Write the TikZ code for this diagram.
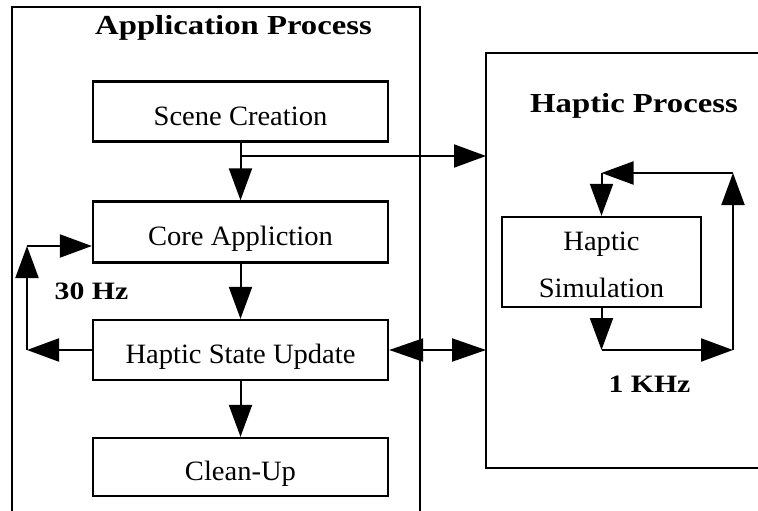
\documentclass[tikz,border=0pt]{standalone}
\usepackage{fontspec}
\setmainfont{Liberation Serif}
\usetikzlibrary{arrows.meta,calc}
\newcommand\bodytxt[1]{\scalebox{1.02}[1]{#1}}
\newcommand\boldtxt[1]{\scalebox{1.19}[1]{#1}}
\tikzset{
  box/.style={draw, line width=2.3pt, minimum width=295pt, minimum height=60pt, inner sep=0pt,
    text height=27pt, text depth=0pt, font=\fontsize{28pt}{33pt}\selectfont},
  frame/.style={draw, line width=2.2pt},
  conn/.style={line width=2pt, -{Triangle[length=32pt,width=23pt]}},
  dconn/.style={line width=2pt, {Triangle[length=34pt,width=23pt]}-{Triangle[length=34pt,width=23pt]}},
  title/.style={anchor=base, inner sep=0pt, font=\fontsize{27.5pt}{32pt}\selectfont\bfseries},
  rate/.style={anchor=base, inner sep=0pt, font=\fontsize{25pt}{30pt}\selectfont\bfseries}
}
\begin{document}
\begin{tikzpicture}[x=1pt,y=-1pt]
\useasboundingbox (0,0) rectangle (758,511);
% containers
\draw[frame] (12,560) -- (12,7) -- (420,7) -- (420,560);
\draw[frame] (800,53) -- (486,53) -- (486,468) -- (800,468);
\node[title] (apt) at (233.5,35) {\boldtxt{Application Process}};
\node[title] (hpt) at (634,113) {\boldtxt{Haptic Process}};
% boxes
\node[box] (sc) at (240.5,111.5) {\bodytxt{Scene Creation}};
\node[box, minimum height=61pt] (ca) at (240.5,232) {\bodytxt{Core Appliction}};
\node[box] (hsu) at (240.5,350) {\bodytxt{Haptic State Update}};
\node[box, minimum height=58pt] (cu) at (240.5,467) {\bodytxt{Clean-Up}};
\node[box, minimum width=199pt, minimum height=90pt, align=center, text height=, text depth=,
  font=\fontsize{28pt}{47pt}\selectfont] (hs) at (601.5,262)
  {\rule{0pt}{25pt}\bodytxt{Haptic}\\\bodytxt{Simulation}};
% labels
\node[rate] (hz30) at (91.5,299) {\boldtxt{30 Hz}};
\node[rate] (khz) at (649.5,392) {\boldtxt{1 KHz}};
% coordinates
\coordinate (br) at (240.5,156);
\coordinate (hpin) at (486,156);
\coordinate (hpin2) at (486,350);
\coordinate (lb) at (27,350);
\coordinate (lt) at (27,246);
\coordinate (rt1) at (601.5,173);
\coordinate (rt2) at (733,173);
\coordinate (rb2) at (733,350);
\coordinate (rb1) at (601.5,350);
% connectors
\draw[conn] (sc) -- (ca);
\draw[conn] (br) -- (hpin);
\draw[conn] (ca) -- (hsu);
\draw[conn] (hsu) -- (cu);
\draw[conn] (hsu.west) -- (lb);
\draw[conn] (lb) -- (lt);
\draw[conn] (lt) -- (lt -| ca.west);
\draw[dconn] (hsu.east) -- (hpin2);
\draw[conn] (hs.south) -- (rb1);
\draw[conn] (rb1) -- (rb2);
\draw[conn] (rb2) -- (rt2);
\draw[conn] (rt2) -- (rt1);
\draw[conn] (rt1) -- (hs.north);
\end{tikzpicture}
\end{document}
